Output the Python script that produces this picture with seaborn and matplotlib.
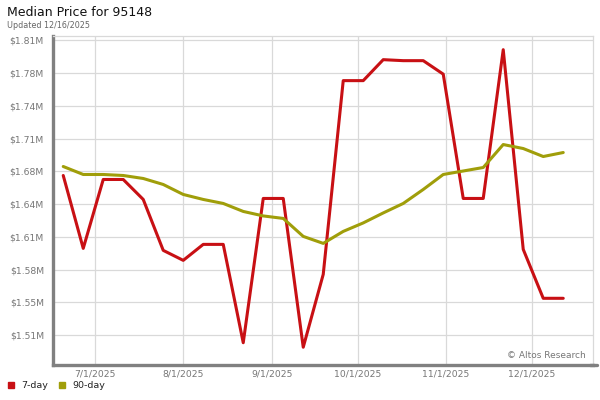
import pandas as pd
import numpy as np
import matplotlib
matplotlib.use("Agg")
import matplotlib.pyplot as plt
import matplotlib.dates as mdates
from matplotlib.lines import Line2D
import seaborn as sns

# Weekly median price readings (USD)
week_dates = pd.date_range("2025-06-20", periods=26, freq="7D")

price_7day = [
    1673000, 1600000, 1669000, 1669000, 1649000, 1598000, 1588000, 1604000,
    1604000, 1505500, 1650000, 1650000, 1501000, 1574000, 1768000, 1768000,
    1789000, 1788000, 1788000, 1774500, 1650000, 1650000, 1799000, 1599000,
    1550000, 1550000,
]
price_90day = [
    1682000, 1674000, 1674000, 1673000, 1670000, 1664000, 1654000, 1649000,
    1645000, 1637000, 1632500, 1630000, 1612000, 1605000, 1617000, 1625500,
    1635500, 1645000, 1659000, 1674000, 1677500, 1681000, 1704000, 1700000,
    1692000, 1696000,
]
series_names = ["7-day", "90-day"]
series_colors = ["#c81014", "#a09e0a"]

ytick_values = np.linspace(1513000, 1808200, 10)
xtick_dates = pd.to_datetime(
    ["2025-07-01", "2025-08-01", "2025-09-01", "2025-10-01", "2025-11-01", "2025-12-01"]
)

df = pd.DataFrame(
    {
        "date": list(week_dates) * 2,
        "price": price_7day + price_90day,
        "series": [series_names[0]] * 26 + [series_names[1]] * 26,
    }
)

sns.set_style("white")
plt.rcParams["font.family"] = ["DejaVu Sans"]

fig = plt.figure(figsize=(6, 4), dpi=100)
ax = fig.add_axes([53 / 600, 35 / 400, 540 / 600, 329 / 400])

sns.lineplot(
    data=df,
    x="date",
    y="price",
    hue="series",
    palette=series_colors,
    linewidth=2.2,
    ax=ax,
    legend=False,
)

ax.set_xlim(pd.Timestamp("2025-06-16 10:00"), pd.Timestamp("2025-12-22 10:00"))
ax.set_ylim(1483200, 1812700)
ax.set_xticks(xtick_dates)
ax.xaxis.set_major_formatter(
    matplotlib.ticker.FuncFormatter(lambda v, p: "{d.month}/{d.day}/{d.year}".format(d=mdates.num2date(v)))
)
ax.set_yticks(ytick_values)
ax.yaxis.set_major_formatter(matplotlib.ticker.FuncFormatter(lambda v, p: "${:.2f}M".format(v / 1e6)))
ax.set_xlabel("")
ax.set_ylabel("")
ax.grid(True, color="#d9d9d9", linewidth=0.9)
ax.set_axisbelow(True)
ax.tick_params(axis="both", length=0, labelsize=6.7, labelcolor="#777777")
ax.tick_params(axis="y", pad=6.5)
ax.tick_params(axis="x", pad=3)

for side in ["top", "right"]:
    ax.spines[side].set_color("#d9d9d9")
    ax.spines[side].set_linewidth(0.9)
for side in ["left", "bottom"]:
    ax.spines[side].set_color("#808080")
    ax.spines[side].set_linewidth(2.4)

# bottom rule runs a little past the plot on the right
fig.add_artist(Line2D([590 / 600, 597 / 600], [35 / 400, 35 / 400], color="#808080", linewidth=2.4))

ax.text(0.987, 0.03, "© Altos Research", transform=ax.transAxes, ha="right", va="center",
        fontsize=6.5, color="#777777")

fig.text(7 / 600, 1 - 12 / 400, "Median Price for 95148", fontsize=9, color="#111111", va="center")
fig.text(7 / 600, 1 - 25 / 400, "Updated 12/16/2025", fontsize=5.8, color="#666666", va="center")

handles = [
    Line2D([], [], linestyle="none", marker="s", markersize=4, color=c) for c in series_colors
]
fig.legend(
    handles,
    series_names,
    loc="center left",
    bbox_to_anchor=(7 / 600, 14 / 400),
    ncol=2,
    frameon=False,
    fontsize=6.8,
    handlelength=0.8,
    handletextpad=0.75,
    columnspacing=1.0,
    borderpad=0,
    borderaxespad=0,
    labelcolor="#222222",
)

fig.savefig("out.png", dpi=100)
